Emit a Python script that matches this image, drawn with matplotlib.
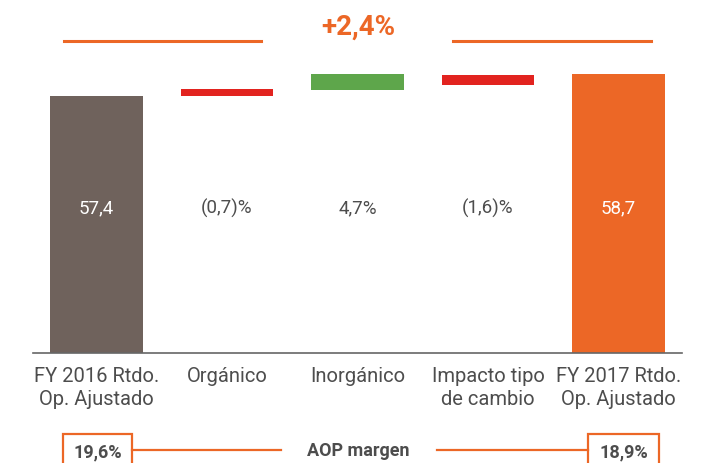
import numpy as np
import matplotlib.pyplot as plt
from matplotlib.patches import Rectangle
from matplotlib.lines import Line2D

plt.rcParams['font.family'] = ['Roboto', 'DejaVu Sans']

# categories and values (bars are schematic, heights)
categories = ['FY 2016 Rtdo.\nOp. Ajustado', 'Orgánico', 'Inorgánico',
              'Impacto tipo\nde cambio', 'FY 2017 Rtdo.\nOp. Ajustado']
bar_bottom = [0, 57.4, 58.7, 59.85, 0]
bar_top = [57.4, 58.96, 62.3, 62.1, 62.3]
value_labels = ['57,4', '(0,7)%', '4,7%', '(1,6)%', '58,7']
colors = ['#6f625c', '#e2231f', '#5ea64b', '#e2231f', '#ec6726']
label_colors = ['white', '#4d4d4d', '#4d4d4d', '#4d4d4d', 'white']
total_change = '+2,4%'
margin_2016 = '19,6%'
margin_2017 = '18,9%'
margin_title = 'AOP margen'

W, H = 716, 464
orange = '#ec6726'
grey = '#4d4d4d'

fig = plt.figure(figsize=(W / 100, H / 100), dpi=100)
ax = fig.add_axes([33 / W, 1 - 354 / H, (682 - 33) / W, 354 / H])

x = np.arange(len(categories))
heights = np.array(bar_top) - np.array(bar_bottom)
ax.bar(x, heights, bottom=bar_bottom, width=0.71, color=colors)
ax.set_xlim(-0.487, 4.487)
ax.set_ylim(0, 79.05)

for xi, lab, c in zip(x, value_labels, label_colors):
    ax.text(xi, 32.5, lab, ha='center', va='center', color=c, fontsize=13.5)

ax.set_xticks(x)
ax.set_xticklabels(categories, fontsize=14.5, color=grey, linespacing=1.3)
ax.tick_params(axis='x', length=0, pad=9)
ax.set_yticks([])
for s in ['top', 'left', 'right']:
    ax.spines[s].set_visible(False)
ax.spines['bottom'].set_color('#666666')
ax.spines['bottom'].set_linewidth(1.2)


def fx(px):
    return px / W


def fy(py):
    return 1 - py / H


# headline
fig.text(fx(358), fy(27), total_change, ha='center', va='center',
         color=orange, fontsize=20, fontweight='bold')
for x0, x1 in [(64, 261), (453, 651)]:
    fig.add_artist(Line2D([fx(x0), fx(x1)], [fy(42), fy(42)],
                          color=orange, lw=2.2))

# AOP margin row
fig.text(fx(358), fy(451), margin_title, ha='center', va='center',
         color=grey, fontsize=13, fontweight='bold')
for x0, x1 in [(132, 281), (437, 588)]:
    fig.add_artist(Line2D([fx(x0), fx(x1)], [fy(451), fy(451)],
                          color=orange, lw=1.6))
for x0, x1, txt in [(63, 132, margin_2016), (588, 659, margin_2017)]:
    fig.add_artist(Rectangle((fx(x0), fy(475)), fx(x1 - x0), (475 - 435) / H,
                             transform=fig.transFigure, fill=False,
                             edgecolor=orange, lw=1.6, clip_on=False))
    fig.text(fx((x0 + x1) / 2), fy(452), txt, ha='center', va='center',
             color=grey, fontsize=13, fontweight='bold')

fig.savefig('out.png', dpi=100)
